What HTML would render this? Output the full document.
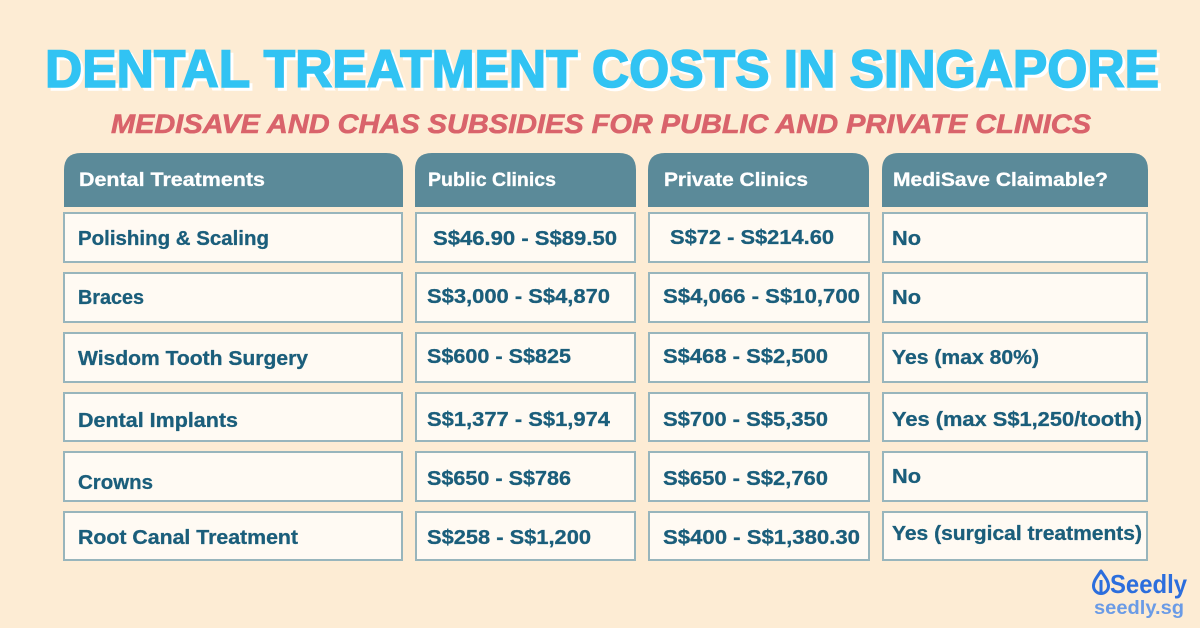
<!DOCTYPE html>
<html>
<head>
<meta charset="utf-8">
<style>
html,body{margin:0;padding:0;background:#FDECD4;}
svg{display:block;}
</style>
</head>
<body>
<svg width="1200" height="628" viewBox="0 0 1200 628" xmlns="http://www.w3.org/2000/svg">
<rect x="0" y="0" width="1200" height="628" fill="#FDECD4"/>

<!-- Title -->
<g font-family="Liberation Sans, Arial, sans-serif" font-weight="bold">
<text x="48" y="90" font-size="53" fill="#FFFFFF" stroke="#FFFFFF" stroke-width="1.6" textLength="1114" lengthAdjust="spacingAndGlyphs">DENTAL TREATMENT COSTS IN SINGAPORE</text>
<text x="45" y="87" font-size="53" fill="#31C3F3" stroke="#31C3F3" stroke-width="1.6" textLength="1114" lengthAdjust="spacingAndGlyphs">DENTAL TREATMENT COSTS IN SINGAPORE</text>
<text x="111" y="133" font-size="27" font-style="italic" fill="#D9636B" stroke="#D9636B" stroke-width="0.6" textLength="980" lengthAdjust="spacingAndGlyphs">MEDISAVE AND CHAS SUBSIDIES FOR PUBLIC AND PRIVATE CLINICS</text>
</g>

<!-- Headers -->
<g fill="#5B8A99">
<path d="M64 207 V170 Q64 153 81 153 H386 Q403 153 403 170 V207 Z"/>
<path d="M415 207 V170 Q415 153 432 153 H619 Q636 153 636 170 V207 Z"/>
<path d="M648 207 V170 Q648 153 665 153 H852 Q869 153 869 170 V207 Z"/>
<path d="M882 207 V170 Q882 153 899 153 H1131 Q1148 153 1148 170 V207 Z"/>
</g>
<g font-family="Liberation Sans, Arial, sans-serif" font-weight="bold" font-size="19" fill="#FFFFFF" stroke="#FFFFFF" stroke-width="0.3">
<text x="79" y="186" textLength="186" lengthAdjust="spacingAndGlyphs">Dental Treatments</text>
<text x="428" y="186" textLength="128" lengthAdjust="spacingAndGlyphs">Public Clinics</text>
<text x="664" y="186" textLength="144" lengthAdjust="spacingAndGlyphs">Private Clinics</text>
<text x="893" y="186" textLength="215" lengthAdjust="spacingAndGlyphs">MediSave Claimable?</text>
</g>

<!-- Cells -->
<g fill="#FFFAF3" stroke="#98B5BC" stroke-width="2">
<rect x="64" y="213" width="338" height="49"/>
<rect x="416" y="213" width="219" height="49"/>
<rect x="649" y="213" width="220" height="49"/>
<rect x="883" y="213" width="264" height="49"/>

<rect x="64" y="273" width="338" height="49"/>
<rect x="416" y="273" width="219" height="49"/>
<rect x="649" y="273" width="220" height="49"/>
<rect x="883" y="273" width="264" height="49"/>

<rect x="64" y="333" width="338" height="49"/>
<rect x="416" y="333" width="219" height="49"/>
<rect x="649" y="333" width="220" height="49"/>
<rect x="883" y="333" width="264" height="49"/>

<rect x="64" y="393" width="338" height="48"/>
<rect x="416" y="393" width="219" height="48"/>
<rect x="649" y="393" width="220" height="48"/>
<rect x="883" y="393" width="264" height="48"/>

<rect x="64" y="452" width="338" height="49"/>
<rect x="416" y="452" width="219" height="49"/>
<rect x="649" y="452" width="220" height="49"/>
<rect x="883" y="452" width="264" height="49"/>

<rect x="64" y="512" width="338" height="48"/>
<rect x="416" y="512" width="219" height="48"/>
<rect x="649" y="512" width="220" height="48"/>
<rect x="883" y="512" width="264" height="48"/>
</g>

<!-- Cell text -->
<g font-family="Liberation Sans, Arial, sans-serif" font-weight="bold" font-size="20" fill="#1B5E7B" stroke="#1B5E7B" stroke-width="0.3">
<text x="78" y="245" textLength="191" lengthAdjust="spacingAndGlyphs">Polishing &amp; Scaling</text>
<text x="78" y="304" textLength="66" lengthAdjust="spacingAndGlyphs">Braces</text>
<text x="78" y="365" textLength="230" lengthAdjust="spacingAndGlyphs">Wisdom Tooth Surgery</text>
<text x="78" y="427" textLength="160" lengthAdjust="spacingAndGlyphs">Dental Implants</text>
<text x="78" y="489" textLength="75" lengthAdjust="spacingAndGlyphs">Crowns</text>
<text x="78" y="544" textLength="220" lengthAdjust="spacingAndGlyphs">Root Canal Treatment</text>

<text x="433" y="245" textLength="184" lengthAdjust="spacingAndGlyphs">S$46.90 - S$89.50</text>
<text x="427" y="303" textLength="183" lengthAdjust="spacingAndGlyphs">S$3,000 - S$4,870</text>
<text x="427" y="363" textLength="144" lengthAdjust="spacingAndGlyphs">S$600 - S$825</text>
<text x="427" y="426" textLength="183" lengthAdjust="spacingAndGlyphs">S$1,377 - S$1,974</text>
<text x="427" y="485" textLength="144" lengthAdjust="spacingAndGlyphs">S$650 - S$786</text>
<text x="427" y="544" textLength="164" lengthAdjust="spacingAndGlyphs">S$258 - S$1,200</text>

<text x="670" y="244" textLength="164" lengthAdjust="spacingAndGlyphs">S$72 - S$214.60</text>
<text x="663" y="303" textLength="197" lengthAdjust="spacingAndGlyphs">S$4,066 - S$10,700</text>
<text x="663" y="363" textLength="165" lengthAdjust="spacingAndGlyphs">S$468 - S$2,500</text>
<text x="663" y="426" textLength="165" lengthAdjust="spacingAndGlyphs">S$700 - S$5,350</text>
<text x="663" y="485" textLength="165" lengthAdjust="spacingAndGlyphs">S$650 - S$2,760</text>
<text x="663" y="544" textLength="197" lengthAdjust="spacingAndGlyphs">S$400 - S$1,380.30</text>

<text x="892" y="245" textLength="29" lengthAdjust="spacingAndGlyphs">No</text>
<text x="892" y="304" textLength="29" lengthAdjust="spacingAndGlyphs">No</text>
<text x="892" y="364" textLength="147" lengthAdjust="spacingAndGlyphs">Yes (max 80%)</text>
<text x="892" y="426" textLength="250" lengthAdjust="spacingAndGlyphs">Yes (max S$1,250/tooth)</text>
<text x="892" y="483" textLength="29" lengthAdjust="spacingAndGlyphs">No</text>
<text x="892" y="540" textLength="250" lengthAdjust="spacingAndGlyphs">Yes (surgical treatments)</text>
</g>

<!-- Logo -->
<g>
<path d="M1101 571 C1097 577 1093.5 581 1093.5 586 A7.5 7.5 0 0 0 1108.5 586 C1108.5 581 1105 577 1101 571 Z" fill="none" stroke="#2C6EDD" stroke-width="3" stroke-linejoin="round"/>
<line x1="1101" y1="580" x2="1101" y2="593" stroke="#2C6EDD" stroke-width="3"/>
<text x="1110" y="593" font-family="Liberation Sans, Arial, sans-serif" font-weight="bold" font-size="26" fill="#2C6EDD" textLength="77" lengthAdjust="spacingAndGlyphs">Seedly</text>
<text x="1094" y="614" font-family="Liberation Sans, Arial, sans-serif" font-weight="bold" font-size="19" fill="#6A9BE6" textLength="90" lengthAdjust="spacingAndGlyphs">seedly.sg</text>
</g>
</svg>
</body>
</html>
